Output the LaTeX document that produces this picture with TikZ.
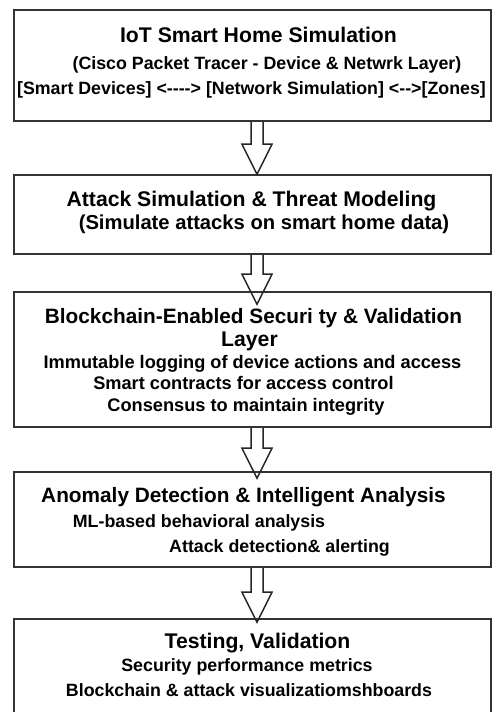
\documentclass[tikz,border=0pt]{standalone}
\usepackage{fontspec}
\setmainfont{Liberation Sans}[Ligatures=TeXOff]
\usetikzlibrary{calc}

% outline block arrow from the bottom of one box to the top of the next,
% #3 = how far the tip runs into the lower box
\newcommand{\hollowarrow}[3]{%
  \draw[hollow] ($(#1.south)+(-1.5,0)$) -- ($(#2.north)+(-1.5,#3-30)$) -- ++(-9,0)
    -- ($(#2.north)+(4.5,#3)$) -- ++(15,-30) -- ++(-9,0) -- ($(#1.south)+(10.5,0)$);}

\tikzset{
  box/.style={draw=black!80, line width=1.6pt, minimum width=477pt},
  hollow/.style={draw=black!85, line width=1.5pt, line join=miter},
  head/.style={anchor=base, inner sep=0pt, font=\fontsize{21.2}{24}\selectfont\bfseries},
  item/.style={anchor=base, inner sep=0pt, font=\fontsize{17.8}{21}\selectfont\bfseries},
}

\begin{document}
\begin{tikzpicture}[x=1pt,y=-1pt]
\useasboundingbox (0,0) rectangle (493,712);
\clip (0,0) rectangle (493,712);
\fill[white] (0,0) rectangle (493,712);

% boxes
\node[box, minimum height=111pt] (iot) at (252.5,65.5){};
\node[box, minimum height=79pt] (atk) at (252.5,214.5){};
\node[box, minimum height=135pt] (bc) at (252.5,359.5){};
\node[box, minimum height=95pt] (ano) at (252.5,519.5){};
\node[box, minimum height=120pt] (test) at (252.5,679){};

% IoT layer
\node[head] (iotT) at (258.5,42){IoT Smart Home Simulation};
\node[item] (iot1) at (267,69){(Cisco Packet Tracer - Device \& Netwrk Layer)};
\node[item] (iot2) at (251.5,94){[Smart Devices] <----> [Network Simulation] <-->[Zones]};

% attack layer
\node[head] (atkT) at (251.5,206){Attack Simulation \& Threat Modeling};
\node[head, font=\fontsize{20.2}{24}\selectfont\bfseries] (atk1) at (264,229){(Simulate attacks on smart home data)};

% blockchain layer
\node[head, font=\fontsize{20.8}{24}\selectfont\bfseries] (bcT) at (253.5,323){Blockchain-Enabled Securi ty \& Validation};
\node[head] (bcL) at (249.5,346){Layer};
\node[item, font=\fontsize{18.2}{21}\selectfont\bfseries] (bc1) at (252.5,368){Immutable logging of device actions and access};
\node[item, font=\fontsize{18.2}{21}\selectfont\bfseries] (bc2) at (243.5,389){Smart contracts for access control};
\node[item, font=\fontsize{18.2}{21}\selectfont\bfseries] (bc3) at (246,411){Consensus to maintain integrity};

% anomaly layer
\node[head, font=\fontsize{20.8}{24}\selectfont\bfseries] (anoT) at (243.5,502){Anomaly Detection \& Intelligent Analysis};
\node[item] (ano1) at (199,527){ML-based behavioral analysis};
\node[item] (ano2) at (279.5,552){Attack detection\& alerting};

% testing layer
\node[head] (testT) at (257.5,648){Testing, Validation};
\node[item] (test1) at (247,671){Security performance metrics};
\node[item] (test2) at (249,696){Blockchain \& attack visualizatiomshboards};

% arrows
\hollowarrow{iot}{atk}{0}
\hollowarrow{atk}{bc}{13}
\hollowarrow{bc}{ano}{7}
\hollowarrow{ano}{test}{4}
\end{tikzpicture}
\end{document}
